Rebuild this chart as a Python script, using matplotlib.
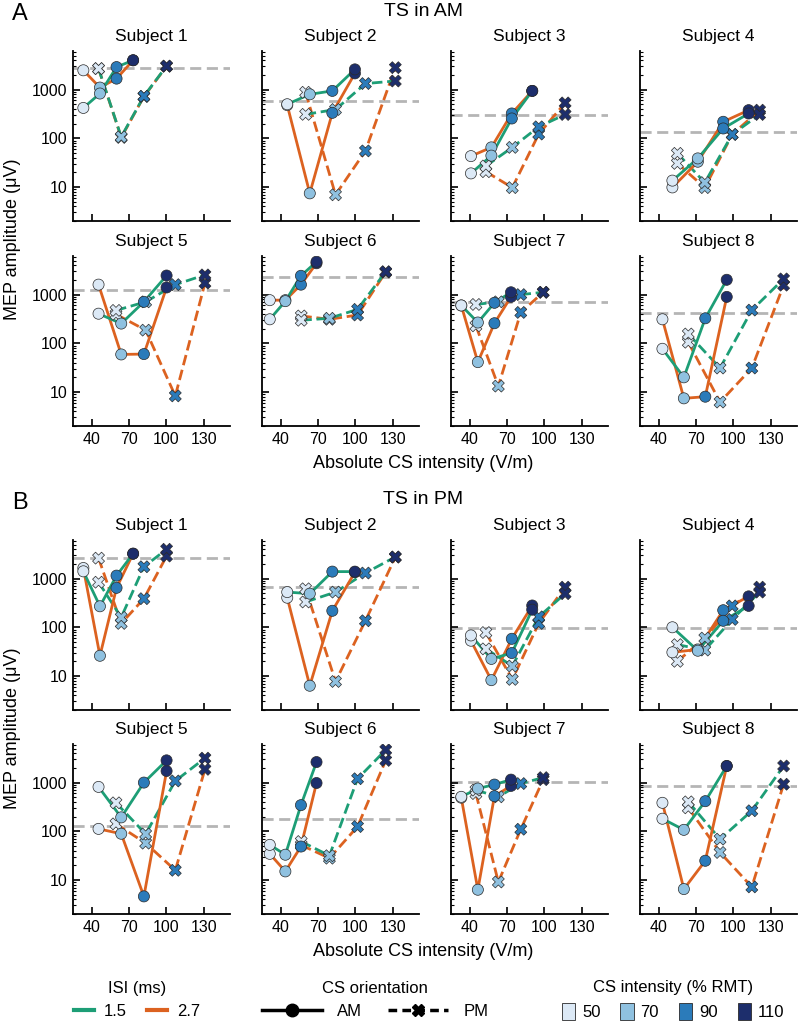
import numpy as np
import matplotlib
matplotlib.use("Agg")
import matplotlib.pyplot as plt
from matplotlib.lines import Line2D
from matplotlib.patches import Patch
from matplotlib.ticker import NullFormatter, LogLocator

plt.rcParams['font.family'] = ['Liberation Sans', 'DejaVu Sans']

# CS intensity levels (% RMT) and per-subject RMT (V/m) for each CS orientation
intensity_pct = [50, 70, 90, 110]
rmt_am = [66.6, 90.5, 82.0, 102.0, 91.0, 62.5, 66.5, 86.0]
rmt_pm = [91.0, 120.0, 106.0, 110.0, 119.0, 113.0, 90.0, 127.5]

# TS in AM -- MEP amplitudes (uV), one row per subject, columns = 50/70/90/110 % RMT
tsam_csam_15 = [[420, 830, 2900, 4000], [500, 800, 940, 2600], [19, 44, 255, 940], [13.5, 38.6, 159, 323],
                [405, 254, 710, 2460], [311, 733, 2430, 4730], [598, 267, 678, 1115], [77, 20, 326, 2013]]
tsam_csam_27 = [[2490, 1100, 1680, 4000], [480, 7.4, 333, 2150], [43, 65, 323, 940], [9.8, 33, 218, 378],
                [1600, 59, 60, 1400], [768, 768, 1600, 4400], [598, 41, 258, 897], [311, 7.4, 8, 897]]
tsam_cspm_15 = [[2700, 107, 730, 3050], [310, 390, 1330, 1500], [27, 65, 172, 308], [49, 12.3, 120, 308],
                [473, 710, 1600, 2540], [297, 326, 497, 2960], [627, 710, 1000, 1115], [155, 31, 480, 2100]]
tsam_cspm_27 = [[2700, 104, 720, 3000], [880, 6.9, 55, 2820], [20.6, 9.7, 122, 533], [30.5, 9.7, 120, 378],
                [394, 186, 8.3, 1720], [364, 311, 381, 2900], [228, 13.2, 430, 1115], [105, 6.2, 31, 1560]]
tsam_baseline = [2780, 577, 298, 136, 1263, 2280, 700, 412]

# TS in PM
tspm_csam_15 = [[1410, 270, 1150, 3250], [528, 490, 1390, 1390], [68, 22.4, 29.6, 230], [100, 33, 136, 275],
                [815, 193, 1000, 2860], [52.6, 33, 344, 2640], [510, 755, 910, 1150], [181, 107, 415, 2190]]
tspm_csam_27 = [[1650, 26, 646, 3250], [405, 6.3, 218, 1350], [53, 8.2, 58, 280], [30.6, 35, 224, 431],
                [112, 89, 4.6, 1730], [34.4, 15, 48.6, 980], [490, 6.3, 526, 855], [384, 6.5, 24.8, 2190]]
tspm_cspm_15 = [[843, 160, 1750, 4000], [331, 528, 1300, 2790], [36, 16, 164, 490], [44, 34, 145, 528],
                [384, 88, 1080, 3180], [61.6, 31.5, 1200, 4700], [700, 510, 955, 1265], [402, 69, 264, 2190]]
tspm_cspm_27 = [[2630, 120, 387, 2900], [617, 7.7, 136, 2750], [78, 8.5, 120, 667], [20, 60, 275, 667],
                [142, 57, 15.8, 1870], [52, 28, 125, 2850], [595, 9.1, 110, 1150], [303, 36.7, 7.2, 925]]
tspm_baseline = [2700, 667, 95, 95, 131, 178, 1030, 840]

green = '#1d9e76'
orange = '#dc6220'
int_colors = ['#dce9f6', '#8fc1e0', '#2b7bba', '#1d2e6c']
edge = '#2a2a2a'

W, H = 798, 1024
fig = plt.figure(figsize=(W / 100, H / 100), dpi=100)

groups = [
    ('A', 'TS in AM', tsam_csam_15, tsam_csam_27, tsam_cspm_15, tsam_cspm_27, tsam_baseline),
    ('B', 'TS in PM', tspm_csam_15, tspm_csam_27, tspm_cspm_15, tspm_cspm_27, tspm_baseline),
]
row_tops = [[51, 256], [540, 744]]
col_left = [73, 262, 451, 640]
pw, ph = 157, 170

for g, (letter, gtitle, am15, am27, pm15, pm27, base) in enumerate(groups):
    for s in range(8):
        r, c = divmod(s, 4)
        top = row_tops[g][r]
        ax = fig.add_axes([col_left[c] / W, 1 - (top + ph) / H, pw / W, ph / H])
        x_am = [rmt_am[s] * p / 100 for p in intensity_pct]
        x_pm = [rmt_pm[s] * p / 100 for p in intensity_pct]

        ax.axhline(base[s], color='#b5b5b5', lw=2.0, dashes=(4, 2), zorder=1)

        series = [
            (x_pm, pm27[s], orange, '--', 'X'),
            (x_pm, pm15[s], green, '--', 'X'),
            (x_am, am27[s], orange, '-', 'o'),
            (x_am, am15[s], green, '-', 'o'),
        ]
        for xs, ys, col, ls, mk in series:
            if ls == '--':
                ax.plot(xs, ys, color=col, lw=2.0, dashes=(3.8, 1.7), zorder=2)
            else:
                ax.plot(xs, ys, color=col, lw=2.0, zorder=2)
        for xs, ys, col, ls, mk in series:
            ax.scatter(xs, ys, c=int_colors, marker=mk, s=64 if mk == 'o' else 74,
                       edgecolors=edge, linewidths=0.5, zorder=3)

        ax.set_yscale('log')
        ax.set_ylim(2, 6200)
        ax.set_xlim(25, 151)
        ax.spines['top'].set_visible(False)
        ax.spines['right'].set_visible(False)
        for sp in ('left', 'bottom'):
            ax.spines[sp].set_linewidth(1.3)
        ax.set_xticks([40, 70, 100, 130])
        ax.set_yticks([10, 100, 1000])
        ax.yaxis.set_minor_locator(LogLocator(base=10, subs=np.arange(2, 10)))
        ax.yaxis.set_minor_formatter(NullFormatter())
        ax.tick_params(which='major', direction='in', length=5, width=1.2, labelsize=11.5, pad=4)
        ax.tick_params(which='minor', direction='in', length=2.5, width=0.8)
        if c == 0:
            ax.set_yticklabels(['10', '100', '1000'])
        else:
            ax.set_yticklabels([])
        if r == 1:
            ax.set_xticklabels(['40', '70', '100', '130'])
        else:
            ax.set_xticklabels([])
        ax.set_title('Subject %d' % (s + 1), fontsize=12.5, pad=7)

    gtop = row_tops[g][0]
    fig.text(12 / W, 1 - (gtop - 37) / H, letter, fontsize=17, ha='left', va='center')
    fig.text(423 / W, 1 - (gtop - 40) / H, gtitle, fontsize=14, ha='center', va='center')
    fig.text(13 / W, 1 - (gtop + 188) / H, 'MEP amplitude (\u03bcV)', fontsize=13,
             rotation=90, ha='center', va='center')
    fig.text(423 / W, 1 - (row_tops[g][1] + ph + 37) / H, 'Absolute CS intensity (V/m)',
             fontsize=13, ha='center', va='center')

# legends
leg_y = 1 - 1000 / H
h1 = [Line2D([], [], color=green, lw=3), Line2D([], [], color=orange, lw=3)]
fig.legend(h1, ['1.5', '2.7'], title='ISI (ms)', loc='center', bbox_to_anchor=(137 / W, leg_y),
           ncol=2, frameon=False, fontsize=12, title_fontsize=12, handlelength=1.2,
           columnspacing=1.2, handletextpad=0.6)
h2 = [Line2D([], [], color='k', lw=2.5, marker='o', markersize=9),
      Line2D([], [], color='k', lw=2.5, ls='--', dashes=(2.5, 1.5), marker='X', markersize=9)]
fig.legend(h2, ['AM', 'PM'], title='CS orientation', loc='center', bbox_to_anchor=(375 / W, leg_y),
           ncol=2, frameon=False, fontsize=12, title_fontsize=12, handlelength=3.6,
           columnspacing=1.6, handletextpad=0.9)
h3 = [Patch(facecolor=cc, edgecolor=edge, lw=0.6) for cc in int_colors]
fig.legend(h3, ['50', '70', '90', '110'], title='CS intensity (% RMT)', loc='center',
           bbox_to_anchor=(673 / W, leg_y), ncol=4, frameon=False, fontsize=12, title_fontsize=12,
           handlelength=0.8, handleheight=1.2, columnspacing=1.2, handletextpad=0.4)

fig.savefig('out.png', dpi=100)
